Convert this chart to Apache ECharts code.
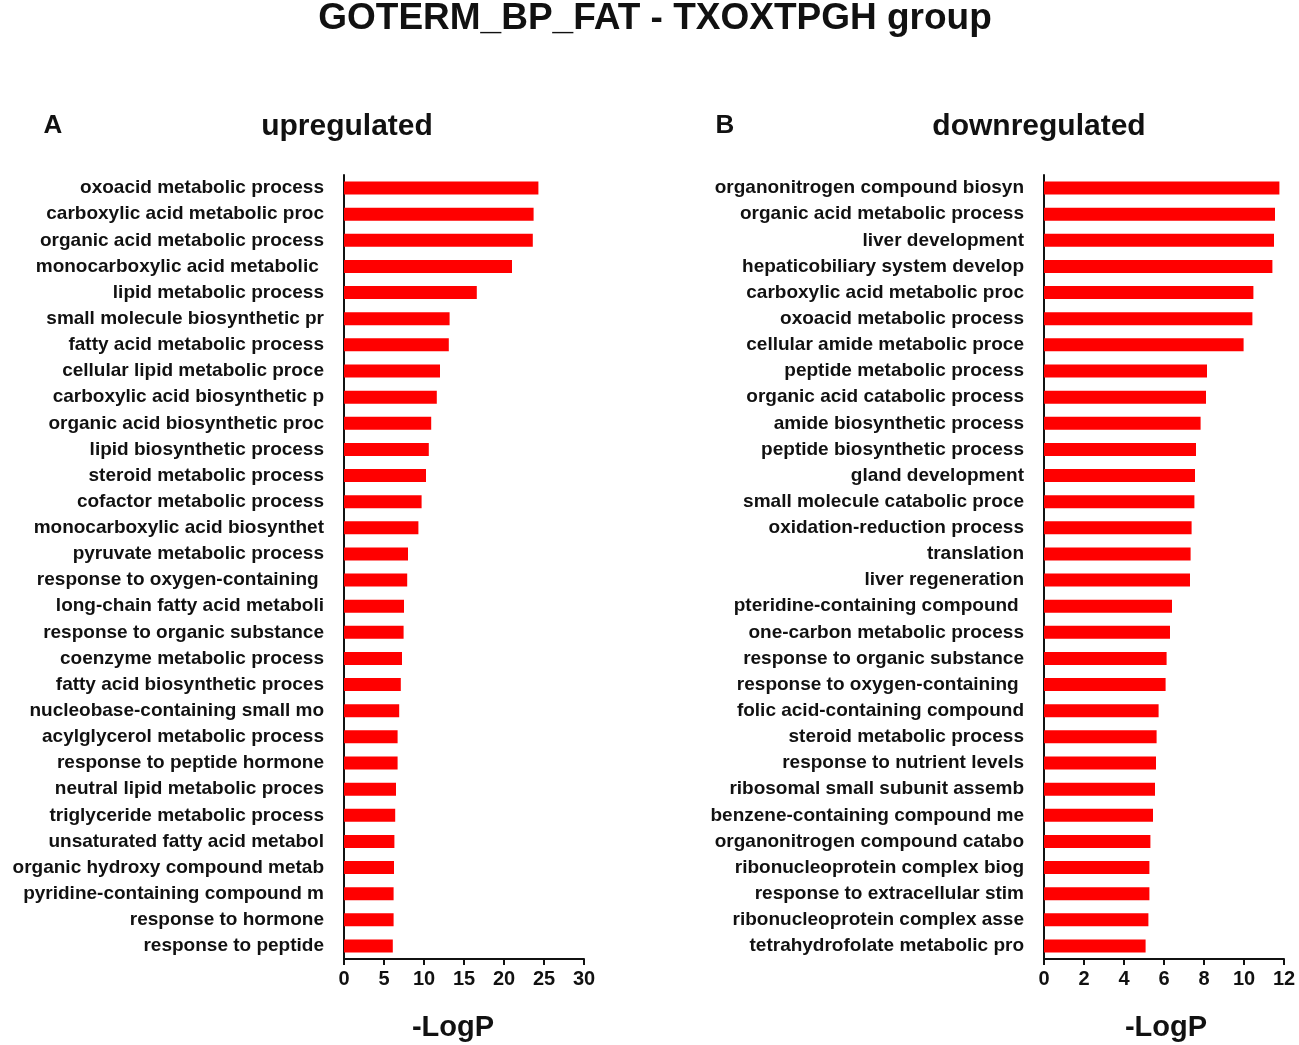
<!DOCTYPE html>
<html>
<head>
<meta charset="utf-8">
<script src="https://cdn.jsdelivr.net/npm/echarts@6/dist/echarts.min.js"></script>
<style>
  html, body { margin: 0; padding: 0; background: #fff; }
  #chart { width: 1299px; height: 1045px; }
</style>
</head>
<body>
<div id="chart"></div>
<script>
// GO terms, top to bottom
const upTerms = [
  "oxoacid metabolic process", "carboxylic acid metabolic proc", "organic acid metabolic process",
  "monocarboxylic acid metabolic ", "lipid metabolic process", "small molecule biosynthetic pr",
  "fatty acid metabolic process", "cellular lipid metabolic proce", "carboxylic acid biosynthetic p",
  "organic acid biosynthetic proc", "lipid biosynthetic process", "steroid metabolic process",
  "cofactor metabolic process", "monocarboxylic acid biosynthet", "pyruvate metabolic process",
  "response to oxygen-containing ", "long-chain fatty acid metaboli", "response to organic substance",
  "coenzyme metabolic process", "fatty acid biosynthetic proces", "nucleobase-containing small mo",
  "acylglycerol metabolic process", "response to peptide hormone", "neutral lipid metabolic proces",
  "triglyceride metabolic process", "unsaturated fatty acid metabol", "organic hydroxy compound metab",
  "pyridine-containing compound m", "response to hormone", "response to peptide"
];
const upValues = [
  24.3, 23.7, 23.6, 21.0, 16.6, 13.2, 13.1, 12.0, 11.6, 10.9,
  10.6, 10.25, 9.7, 9.3, 8.0, 7.9, 7.5, 7.45, 7.25, 7.1,
  6.9, 6.7, 6.7, 6.5, 6.4, 6.3, 6.25, 6.2, 6.2, 6.1
];

const downTerms = [
  "organonitrogen compound biosyn", "organic acid metabolic process", "liver development",
  "hepaticobiliary system develop", "carboxylic acid metabolic proc", "oxoacid metabolic process",
  "cellular amide metabolic proce", "peptide metabolic process", "organic acid catabolic process",
  "amide biosynthetic process", "peptide biosynthetic process", "gland development",
  "small molecule catabolic proce", "oxidation-reduction process", "translation",
  "liver regeneration", "pteridine-containing compound ", "one-carbon metabolic process",
  "response to organic substance", "response to oxygen-containing ", "folic acid-containing compound",
  "steroid metabolic process", "response to nutrient levels", "ribosomal small subunit assemb",
  "benzene-containing compound me", "organonitrogen compound catabo", "ribonucleoprotein complex biog",
  "response to extracellular stim", "ribonucleoprotein complex asse", "tetrahydrofolate metabolic pro"
];
const downValues = [
  11.77, 11.55, 11.5, 11.42, 10.47, 10.42, 9.98, 8.15, 8.1, 7.83,
  7.6, 7.55, 7.52, 7.38, 7.33, 7.3, 6.4, 6.3, 6.13, 6.08,
  5.73, 5.63, 5.6, 5.55, 5.45, 5.32, 5.27, 5.27, 5.22, 5.08
];

const FONT = "Liberation Sans";
const INK = "#111";

function yAx(grid, terms) {
  return {
    type: "category", gridIndex: grid, data: terms, inverse: true,
    axisLine: { lineStyle: { color: INK, width: 2 } },
    axisTick: { alignWithLabel: true, length: 5, lineStyle: { color: INK, width: 2 } },
    axisLabel: { color: INK, fontFamily: FONT, fontWeight: "bold", fontSize: 19, margin: 20 }
  };
}
function xAx(grid, max, step, shift) {
  return {
    type: "value", gridIndex: grid, min: 0, max: max, interval: step,
    name: "-LogP", nameLocation: "middle", nameGap: 54,
    nameTextStyle: { color: INK, fontFamily: FONT, fontWeight: "bold", fontSize: 29,
      padding: shift > 0 ? [0, shift, 0, 0] : [0, 0, 0, -shift] },
    splitLine: { show: false },
    axisLine: { show: true, lineStyle: { color: INK, width: 2 } },
    axisTick: { show: true, length: 6, lineStyle: { color: INK, width: 2 } },
    axisLabel: { color: INK, fontFamily: FONT, fontWeight: "bold", fontSize: 20, margin: 10 }
  };
}
function txt(str, x, y, size) {
  return {
    text: str, left: x, top: y, textAlign: "center", padding: 0,
    textStyle: { color: INK, fontFamily: FONT, fontWeight: "bold", fontSize: size }
  };
}

const chart = echarts.init(document.getElementById("chart"));
chart.setOption({
  animation: false,
  backgroundColor: "#fff",
  title: [
    txt("GOTERM_BP_FAT - TXOXTPGH group", 655, 0, 37),
    txt("A", 53, 113, 26),
    txt("upregulated", 347, 112, 30),
    txt("B", 725, 113, 26),
    txt("downregulated", 1039, 112, 30)
  ],
  grid: [
    { left: 344, width: 240, top: 175, height: 784, outerBoundsMode: "none" },
    { left: 1044, width: 240, top: 175, height: 784, outerBoundsMode: "none" }
  ],
  xAxis: [xAx(0, 30, 5, 22), xAx(1, 12, 2, -4)],
  yAxis: [yAx(0, upTerms), yAx(1, downTerms)],
  series: [
    { type: "bar", xAxisIndex: 0, yAxisIndex: 0, data: upValues, barWidth: 13,
      itemStyle: { color: "#ff0000" } },
    { type: "bar", xAxisIndex: 1, yAxisIndex: 1, data: downValues, barWidth: 13,
      itemStyle: { color: "#ff0000" } }
  ]
});
</script>
</body>
</html>
